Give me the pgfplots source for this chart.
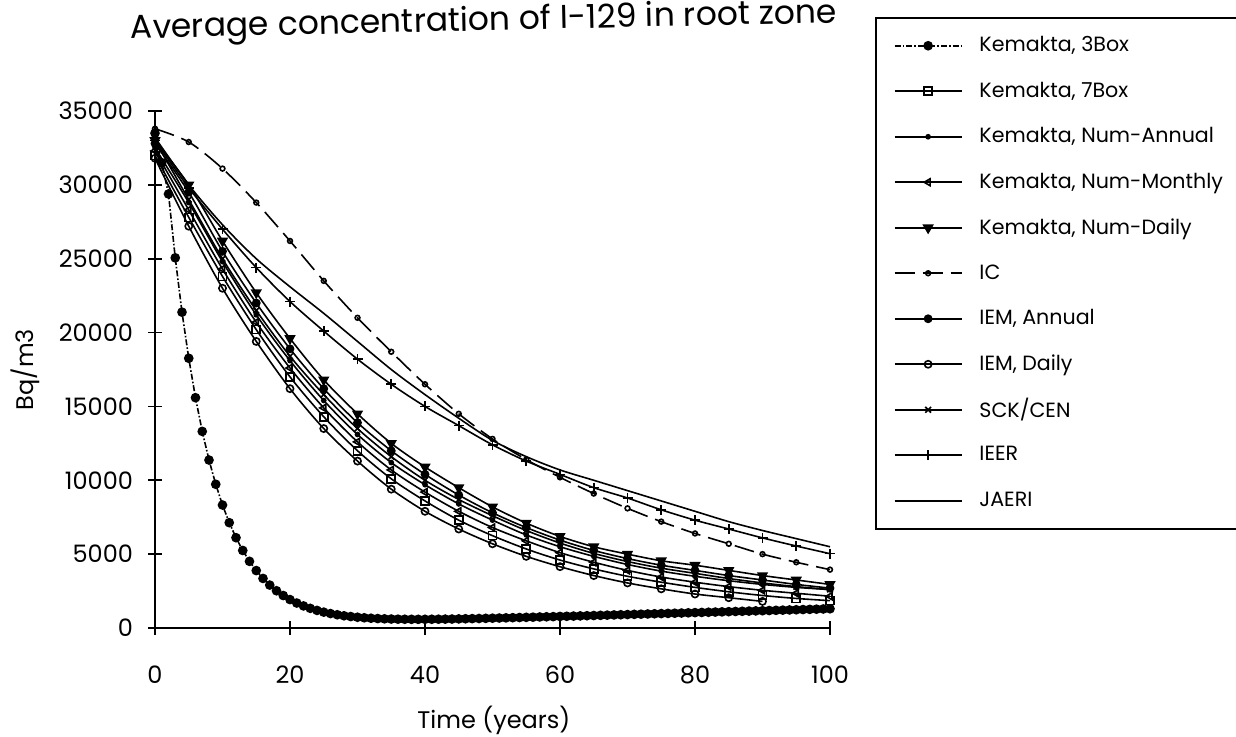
\documentclass[border=0pt]{standalone}
\usepackage{fontspec}
\setmainfont{Poppins}
\usepackage{pgfplots}
\pgfplotsset{compat=1.18}
\usepackage{pgfplotstable}

\pgfplotstableread{
t   K7    KNA   KNM   KND   IC    IEMA  IEMD  SCK   IEER  JAERI
0   32000 32500 32300 33000 33800 32800 31800 33000 33000 33200
5   27800 28800 28300 30000 32900 29500 27200 29000 29800 30000
10  23800 24800 24300 26200 31100 25500 23000 25000 27000 27300
15  20200 21200 20700 22700 28800 22000 19400 21500 24400 25000
20  17000 18100 17600 19600 26200 18900 16200 18400 22100 23100
25  14300 15400 14900 16800 23500 16200 13500 15800 20100 21300
30  12000 13100 12600 14500 21000 13900 11300 13500 18200 19400
35  10100 11200 10700 12500 18700 12000 9400  11600 16500 17500
40  8600  9700  9200  10900 16500 10400 7900  10000 15000 15800
45  7300  8400  7900  9500  14500 9000  6700  8700  13700 14200
50  6250  7300  6800  8200  12800 7800  5700  7600  12400 12700
55  5350  6300  5900  7100  11400 6800  4850  6600  11300 11600
60  4600  5500  5100  6200  10200 5950  4150  5750  10400 10700
65  4000  4850  4450  5500  9100  5250  3550  5050  9500  10000
70  3500  4300  3900  5000  8100  4700  3050  4500  8800  9300
75  3100  3850  3450  4550  7200  4250  2650  4050  8000  8600
80  2750  3500  3100  4250  6400  3900  2300  3700  7300  7900
85  2450  3200  2800  3900  5700  3550  2050  3350  6700  7200
90  2200  2950  2550  3550  5000  3250  1800  3050  6100  6600
95  2000  2750  2350  3250  4450  2950  nan   2800  5550  6050
100 1850  2600  2150  2950  3950  2700  nan   2600  5030  5500
}\conc

\pgfplotstableread{
t c
0 33500
1 31500
2 29380
3 25060
4 21380
5 18260
6 15590
7 13310
8 11370
9 9730
10 8325
11 7130
12 6113
13 5248
14 4512
15 3887
16 3356
17 2905
18 2522
19 2198
20 1923
21 1691
22 1495
23 1330
24 1191
25 1074
26 977
27 896
28 828
29 773
30 728
31 691
32 661
33 638
34 620
35 607
36 598
37 592
38 588
39 587
40 589
41 592
42 596
43 602
44 608
45 616
46 625
47 634
48 643
49 653
50 664
51 675
52 686
53 698
54 709
55 721
56 733
57 746
58 758
59 770
60 783
61 793
62 806
63 819
64 832
65 845
66 858
67 871
68 884
69 897
70 910
71 923
72 936
73 949
74 962
75 975
76 988
77 1001
78 1014
79 1027
80 1040
81 1053
82 1066
83 1079
84 1092
85 1105
86 1118
87 1131
88 1144
89 1157
90 1170
91 1183
92 1196
93 1209
94 1222
95 1235
96 1248
97 1261
98 1274
99 1287
100 1300
}\threebox

\begin{document}
\begin{tikzpicture}
\useasboundingbox (0,0) rectangle (618pt,368.5pt);
\begin{axis}[
  at={(77.5pt,54.5pt)}, anchor=south west,
  scale only axis, width=337.5pt, height=258.5pt,
  xmin=0, xmax=100, ymin=0, ymax=35000,
  axis x line*=bottom, axis y line*=left,
  axis line style={line width=0.9pt},
  xtick={0,20,...,100}, ytick={0,5000,...,35000},
  scaled y ticks=false,
  /pgf/number format/1000 sep={},
  /pgf/number format/assume math mode=true,
  tick align=center, major tick length=7pt,
  every tick/.style={line width=0.9pt, black},
  tick label style={font=\fontsize{12}{14}\selectfont},
  yticklabel style={xshift=-4pt},
  xticklabel style={yshift=-12pt},
  title={Average concentration of I-129 in root zone},
  title style={at={(0.487,1.148)}, anchor=center, rotate=1.3, font=\fontsize{16.5}{19}\selectfont},
  xlabel={Time (years)},
  xlabel style={at={(0.502,-0.178)}, anchor=center, font=\fontsize{12}{14}\selectfont},
  ylabel={Bq/m3},
  ylabel style={at={(-0.1926,0.5)}, anchor=center, font=\fontsize{12}{14}\selectfont},
  legend cell align=left,
  legend style={at={(1.0667,1.1818)}, anchor=north west, draw=black, line width=0.8pt,
    inner xsep=9pt, inner ysep=2.6pt, column sep=8.5pt, row sep=0pt,
    font=\fontsize{10.3}{12}\selectfont,
    nodes={minimum height=22.75pt, inner ysep=0pt, inner xsep=0pt}},
  legend image code/.code={\draw[mark repeat=2,mark phase=2,#1] plot coordinates {(0pt,0pt) (16.75pt,0pt) (33.5pt,0pt)};},
  every axis plot/.append style={black, line width=0.8pt},
]
\addplot[densely dashdotted, mark=*, mark size=2pt, mark options={solid}] table[x=t,y=c]{\threebox};
\addlegendentry{\makebox[160pt][l]{Kemakta, 3Box}}
\addplot[smooth, mark=square, mark size=2pt] table[x=t,y=K7]{\conc};
\addlegendentry{Kemakta, 7Box}
\addplot[smooth, mark=*, mark size=1pt] table[x=t,y=KNA]{\conc};
\addlegendentry{Kemakta, Num-Annual}
\addplot[smooth, mark=triangle, mark size=2pt, mark options={rotate=90}] table[x=t,y=KNM]{\conc};
\addlegendentry{Kemakta, Num-Monthly}
\addplot[smooth, mark=triangle*, mark size=2.5pt, mark options={rotate=180}] table[x=t,y=KND]{\conc};
\addlegendentry{Kemakta, Num-Daily}
\addplot[smooth, dash pattern=on 10pt off 4pt, mark=o, mark size=1.2pt, mark options={solid}] table[x=t,y=IC]{\conc};
\addlegendentry{IC}
\addplot[smooth, mark=*, mark size=1.8pt] table[x=t,y=IEMA]{\conc};
\addlegendentry{IEM, Annual}
\addplot[smooth, mark=o, mark size=1.8pt, unbounded coords=jump] table[x=t,y=IEMD]{\conc};
\addlegendentry{IEM, Daily}
\addplot[smooth, mark=x, mark size=2pt] table[x=t,y=SCK]{\conc};
\addlegendentry{SCK/CEN}
\addplot[smooth, mark=+, mark size=2.5pt] table[x=t,y=IEER]{\conc};
\addlegendentry{IEER}
\addplot[smooth, no marks] table[x=t,y=JAERI]{\conc};
\addlegendentry{JAERI}
\end{axis}
\end{tikzpicture}
\end{document}
